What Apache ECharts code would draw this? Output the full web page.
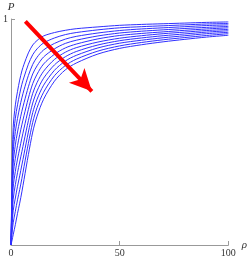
<!DOCTYPE html>
<html>
<head>
<meta charset="utf-8">
<script src="https://cdn.jsdelivr.net/npm/echarts@6/dist/echarts.min.js"></script>
<style>html,body{margin:0;padding:0;background:#fff}#c{width:250px;height:260px}</style>
</head>
<body>
<div id="c"></div>
<script>
var rho = [0,0.5,1,2,3,4,5,6,8,10,12,15,20,25,30,40,50,60,70,80,90,100];
var p1  = [0,0.300,0.520,0.620,0.680,0.730,0.770,0.800,0.850,0.885,0.905,0.925,0.940,0.950,0.957,0.965,0.972,0.976,0.979,0.982,0.985,0.987];
var p2  = [0,0.269,0.467,0.561,0.620,0.669,0.711,0.743,0.800,0.842,0.868,0.894,0.916,0.931,0.940,0.952,0.961,0.966,0.970,0.974,0.978,0.980];
var p3  = [0,0.238,0.414,0.502,0.560,0.609,0.651,0.687,0.750,0.799,0.831,0.863,0.892,0.911,0.923,0.938,0.949,0.956,0.961,0.966,0.971,0.974];
var p4  = [0,0.207,0.362,0.443,0.500,0.548,0.592,0.630,0.700,0.757,0.793,0.832,0.868,0.892,0.906,0.925,0.938,0.946,0.952,0.958,0.963,0.967];
var p5  = [0,0.176,0.309,0.384,0.440,0.488,0.532,0.573,0.650,0.714,0.756,0.801,0.844,0.872,0.889,0.912,0.927,0.936,0.943,0.950,0.956,0.961];
var p6  = [0,0.146,0.256,0.326,0.380,0.427,0.473,0.517,0.600,0.671,0.719,0.769,0.821,0.853,0.873,0.898,0.915,0.926,0.935,0.942,0.949,0.954];
var p7  = [0,0.115,0.203,0.267,0.320,0.367,0.413,0.460,0.550,0.628,0.682,0.738,0.797,0.833,0.856,0.885,0.904,0.916,0.926,0.934,0.942,0.948];
var p8  = [0,0.084,0.151,0.208,0.260,0.306,0.354,0.403,0.500,0.586,0.645,0.707,0.773,0.814,0.839,0.872,0.893,0.906,0.917,0.926,0.935,0.941];
var p9  = [0,0.053,0.098,0.149,0.200,0.245,0.294,0.347,0.450,0.543,0.608,0.676,0.749,0.794,0.822,0.858,0.881,0.896,0.908,0.918,0.927,0.935];
var p10 = [0,0.022,0.045,0.090,0.140,0.185,0.235,0.290,0.400,0.500,0.570,0.645,0.725,0.775,0.805,0.845,0.870,0.886,0.899,0.910,0.920,0.928];
var curves = [p1,p2,p3,p4,p5,p6,p7,p8,p9,p10];
var xTicks = [0,50,100];
var yTicks = [1];
var arrowStart = [6.6, 0.99];
var arrowEnd = [37.2, 0.68];

var chart = echarts.init(document.getElementById('c'), null, {renderer:'canvas'});
var serif = 'Liberation Serif';
var axisColor = '#999';
var series = curves.map(function(p, i){
  var s = {
    type:'line',
    data: rho.map(function(r, j){ return [r, p[j]]; }),
    showSymbol:false,
    smooth:0.3,
    lineStyle:{color:'#3030ff', width:1},
    z: 2
  };
  if (i === 0) {
    s.markLine = {
      silent:true,
      symbol:['none','arrow'],
      symbolSize:[16,22],
      label:{show:false},
      lineStyle:{color:'#ff0000', width:4, type:'solid'},
      emphasis:{disabled:true},
      data:[[{coord:arrowStart},{coord:arrowEnd}]],
      z: 5
    };
  }
  return s;
});
chart.setOption({
  animation:false,
  grid:{left:9, right:15, top:19, bottom:15},
  xAxis:{
    type:'value', min:0, max:100, interval:50,
    name:'ρ', nameLocation:'end', nameGap:6,
    nameTextStyle:{fontFamily:serif, fontStyle:'italic', fontSize:11, color:'#333', padding:[0,0,11,0]},
    axisLine:{show:true, lineStyle:{color:axisColor, width:1}},
    axisTick:{show:true, inside:true, length:4, lineStyle:{color:axisColor}},
    axisLabel:{fontFamily:serif, fontSize:10, color:'#333', margin:3,
      formatter:function(v){ return xTicks.indexOf(v) >= 0 ? String(v) : ''; }},
    splitLine:{show:false}
  },
  yAxis:{
    type:'value', min:0, max:1, interval:1,
    name:'P', nameLocation:'end', nameGap:6,
    nameTextStyle:{fontFamily:serif, fontStyle:'italic', fontSize:11, color:'#333'},
    axisLine:{show:true, lineStyle:{color:axisColor, width:1}},
    axisTick:{show:true, inside:true, length:4, lineStyle:{color:axisColor}},
    axisLabel:{fontFamily:serif, fontSize:10, color:'#333', margin:3,
      formatter:function(v){ return yTicks.indexOf(v) >= 0 ? String(v) : ''; }},
    splitLine:{show:false}
  },
  series: series
});
</script>
</body>
</html>
